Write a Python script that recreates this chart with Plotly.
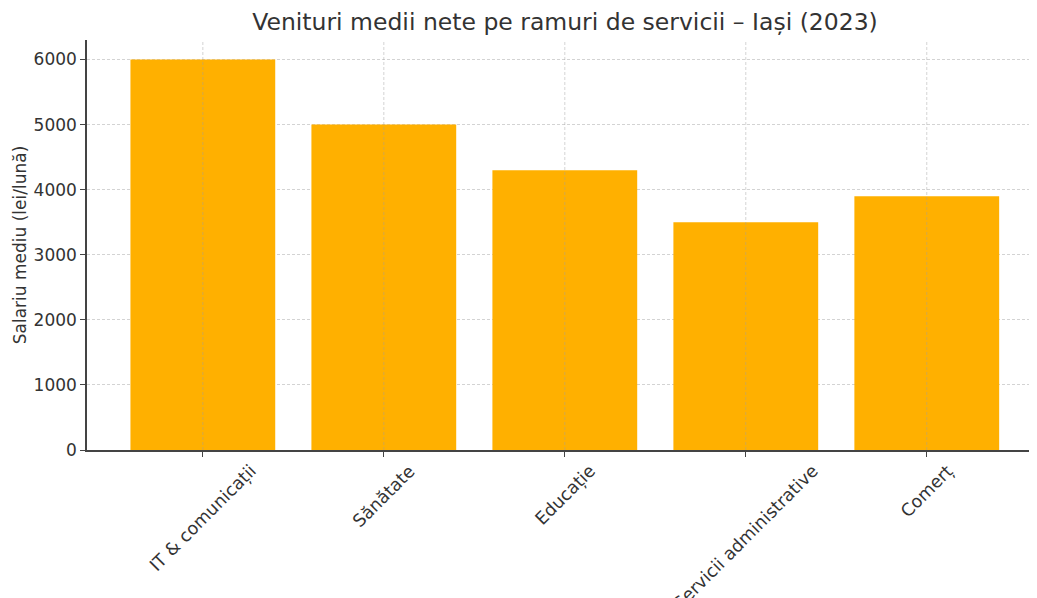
import plotly.graph_objects as go

categories = ["IT & comunicații", "Sănătate", "Educație", "Servicii administrative", "Comerț"]
values = [6000, 5000, 4300, 3500, 3900]
y_ticks = [0, 1000, 2000, 3000, 4000, 5000, 6000]

title = "Venituri medii nete pe ramuri de servicii – Iași (2023)"
y_title = "Salariu mediu (lei/lună)"

font_family = "DejaVu Sans"
grid_color = "rgba(175,175,175,0.55)"

W, H = 1029, 590  # page body has an 8px margin

fig = go.Figure()
fig.add_trace(go.Bar(
    x=list(range(len(categories))),
    y=values,
    width=0.8,
    marker=dict(color="#FFB000", line=dict(width=0)),
))

# vertical grid lines drawn above the bars (as in the reference)
for i in range(len(categories)):
    fig.add_shape(type="line", xref="x", yref="paper", x0=i, x1=i, y0=0, y1=1,
                  line=dict(color="rgba(160,160,160,0.45)", width=1, dash="3px,2px"),
                  layer="above")

# rotated category labels centred under their ticks (matplotlib-style)
for i, cat in enumerate(categories):
    fig.add_annotation(
        x=i, xref="x", y=0, yref="paper",
        text=cat, textangle=-45, showarrow=False,
        xanchor="center", yanchor="top", yshift=-8,
        font=dict(size=17.5, family=font_family, color="#333333"),
    )

fig.update_layout(
    width=W,
    height=H,
    margin=dict(l=79, r=0, t=32, b=148),
    paper_bgcolor="white",
    plot_bgcolor="white",
    showlegend=False,
    font=dict(family=font_family, color="#333333"),
    title=dict(
        text=title,
        x=557 / W,
        xanchor="center",
        y=1 - 14 / H,
        yanchor="middle",
        font=dict(size=23.5, family=font_family, color="#333333"),
    ),
)

fig.update_xaxes(
    range=[-0.64, 4.609],
    tickmode="array",
    tickvals=list(range(len(categories))),
    ticktext=categories,
    showticklabels=False,
    showline=True,
    linecolor="#444444",
    linewidth=1.5,
    ticks="outside",
    ticklen=5,
    tickcolor="#444444",
    showgrid=False,
    zeroline=False,
    automargin=False,
)

fig.update_yaxes(
    range=[0, 6300],
    tickmode="array",
    tickvals=y_ticks,
    ticktext=[str(v) for v in y_ticks],
    tickfont=dict(size=17, family=font_family, color="#333333"),
    showline=True,
    linecolor="#444444",
    linewidth=1.5,
    ticks="outside",
    ticklen=5,
    tickcolor="#444444",
    showgrid=True,
    gridcolor=grid_color,
    griddash="3px,2px",
    gridwidth=1,
    zeroline=False,
    title=dict(text=y_title, font=dict(size=17, family=font_family, color="#333333"), standoff=3),
    automargin=False,
)

fig.write_html("out.html")
